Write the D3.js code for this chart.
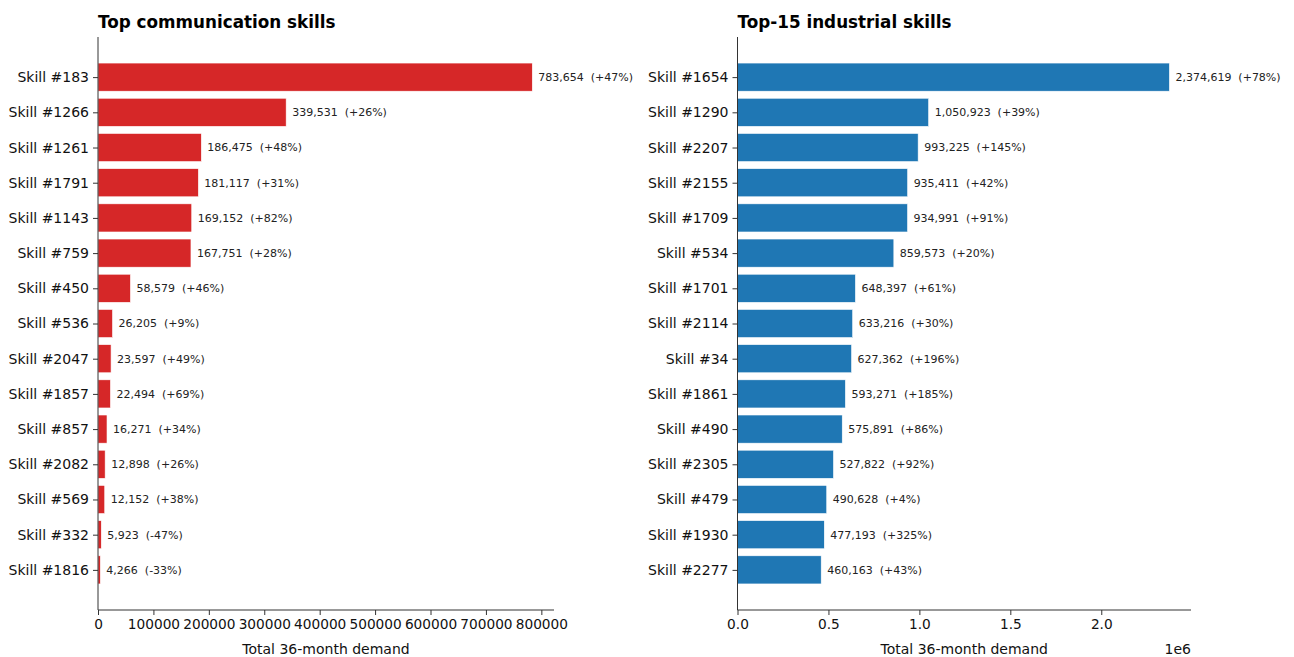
<!DOCTYPE html>
<html>
<head>
<meta charset="utf-8">
<script src="https://cdn.jsdelivr.net/npm/d3@7"></script>
<style>
  body { margin: 0; background: #fff; }
  svg { font-family: "DejaVu Sans", sans-serif; }
  .val { white-space: pre; }
</style>
</head>
<body>
<div id="chart"></div>
<script>
// Left panel: communication skills
const commSkills = ['Skill #183', 'Skill #1266', 'Skill #1261', 'Skill #1791', 'Skill #1143', 'Skill #759', 'Skill #450', 'Skill #536', 'Skill #2047', 'Skill #1857', 'Skill #857', 'Skill #2082', 'Skill #569', 'Skill #332', 'Skill #1816'];
const commDemand = [783654, 339531, 186475, 181117, 169152, 167751, 58579, 26205, 23597, 22494, 16271, 12898, 12152, 5923, 4266];
const commGrowth = [47, 26, 48, 31, 82, 28, 46, 9, 49, 69, 34, 26, 38, -47, -33];
const commTicks = [0, 100000, 200000, 300000, 400000, 500000, 600000, 700000, 800000];

// Right panel: industrial skills
const indSkills = ['Skill #1654', 'Skill #1290', 'Skill #2207', 'Skill #2155', 'Skill #1709', 'Skill #534', 'Skill #1701', 'Skill #2114', 'Skill #34', 'Skill #1861', 'Skill #490', 'Skill #2305', 'Skill #479', 'Skill #1930', 'Skill #2277'];
const indDemand = [2374619, 1050923, 993225, 935411, 934991, 859573, 648397, 633216, 627362, 593271, 575891, 527822, 490628, 477193, 460163];
const indGrowth = [78, 39, 145, 42, 91, 20, 61, 30, 196, 185, 86, 92, 4, 325, 43];
const indTicks = [0, 500000, 1000000, 1500000, 2000000];

const width = 1294, height = 657;
const svg = d3.select('#chart').append('svg')
    .attr('width', width)
    .attr('height', height);

const fmt = d3.format(',');

function drawPanel(opts) {
    const { left, right, top, bottom, skills, demand, growth, ticks, tickFmt, color, title, offsetText } = opts;
    const n = skills.length;
    const maxV = d3.max(demand);

    const x = d3.scaleLinear().domain([0, maxV * 1.05]).range([left, right]);
    // matplotlib-like: bars at integer positions, 0.8 tall, 5% margin
    const pad = 0.05 * (n - 1 + 0.8);
    const y = d3.scaleLinear().domain([-0.4 - pad, n - 1 + 0.4 + pad]).range([top, bottom]);
    const barH = y(0.8) - y(0);

    const g = svg.append('g');

    // Bars
    g.selectAll('.bar')
        .data(demand)
        .enter()
        .append('rect')
        .attr('class', 'bar')
        .attr('x', x(0))
        .attr('y', (d, i) => y(i - 0.4))
        .attr('width', d => x(d) - x(0))
        .attr('height', barH)
        .attr('fill', color)
        .attr('stroke', '#fff')
        .attr('stroke-width', 0.6);

    // Value labels
    g.selectAll('.val')
        .data(demand)
        .enter()
        .append('text')
        .attr('class', 'val')
        .attr('x', d => x(d) + 6)
        .attr('y', (d, i) => y(i))
        .attr('dy', '0.36em')
        .attr('font-size', 11)
        .attr('fill', '#222')
        .text((d, i) => `${fmt(d)}  (${growth[i] >= 0 ? '+' : ''}${growth[i]}%)`);

    // Y axis
    const yAxis = g.append('g')
        .attr('transform', `translate(${left},0)`)
        .call(d3.axisLeft(y).tickValues(d3.range(n)).tickFormat(i => skills[i]).tickSize(5).tickPadding(4));
    yAxis.select('.domain').attr('d', `M0,${top}V${bottom}`).attr('stroke', '#333').attr('stroke-width', 1);
    yAxis.selectAll('.tick line').attr('stroke', '#333');
    yAxis.selectAll('.tick text').attr('font-size', 14).attr('fill', '#111').attr('font-family', '"DejaVu Sans", sans-serif');

    // X axis
    const xAxis = g.append('g')
        .attr('transform', `translate(0,${bottom})`)
        .call(d3.axisBottom(x).tickValues(ticks).tickFormat(tickFmt).tickSize(5).tickPadding(4));
    xAxis.select('.domain').attr('d', `M${left},0H${right}`).attr('stroke', '#333').attr('stroke-width', 1);
    xAxis.selectAll('.tick line').attr('stroke', '#333');
    xAxis.selectAll('.tick text').attr('font-size', 13.7).attr('fill', '#111').attr('font-family', '"DejaVu Sans", sans-serif');

    // X label
    g.append('text')
        .attr('x', (left + right) / 2)
        .attr('y', bottom + 44)
        .attr('text-anchor', 'middle')
        .attr('font-size', 14)
        .attr('fill', '#111')
        .text('Total 36-month demand');

    if (offsetText) {
        g.append('text')
            .attr('x', right)
            .attr('y', bottom + 44)
            .attr('text-anchor', 'end')
            .attr('font-size', 14)
            .attr('fill', '#111')
            .text(offsetText);
    }

    // Title
    g.append('text')
        .attr('x', left)
        .attr('y', 28)
        .attr('font-size', 16.8)
        .attr('font-weight', 'bold')
        .attr('fill', '#000')
        .text(title);
}

drawPanel({
    left: 98, right: 554, top: 37, bottom: 610,
    skills: commSkills, demand: commDemand, growth: commGrowth,
    ticks: commTicks, tickFmt: d => String(d),
    color: '#d62728', title: 'Top communication skills'
});

drawPanel({
    left: 737.5, right: 1191, top: 37, bottom: 610,
    skills: indSkills, demand: indDemand, growth: indGrowth,
    ticks: indTicks, tickFmt: d => (d / 1e6).toFixed(1),
    color: '#1f77b4', title: 'Top-15 industrial skills', offsetText: '1e6'
});
</script>
</body>
</html>
